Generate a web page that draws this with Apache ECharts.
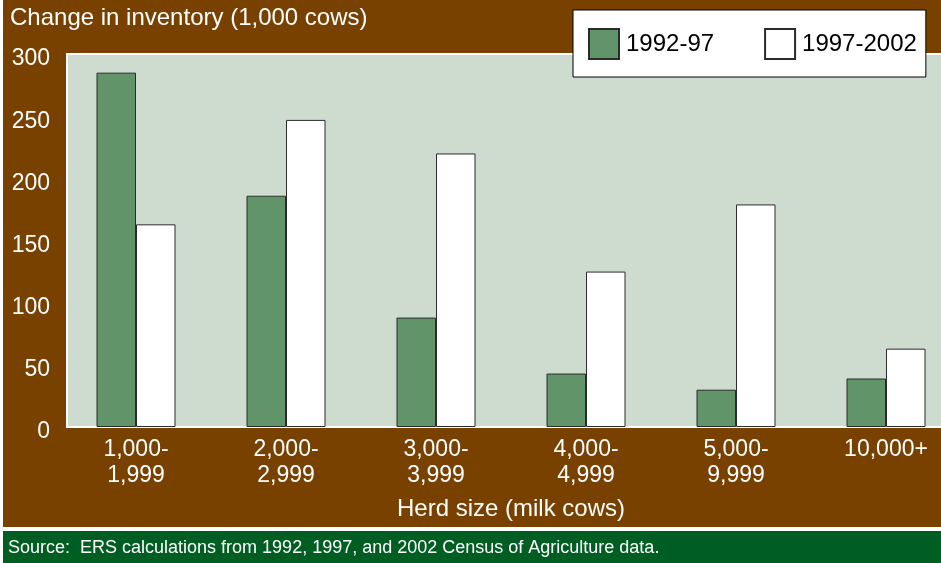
<!DOCTYPE html>
<html>
<head>
<meta charset="utf-8">
<script src="https://cdn.jsdelivr.net/npm/echarts@6/dist/echarts.min.js"></script>
<style>
  html, body { margin: 0; padding: 0; background: #ffffff; overflow: hidden; }
  #main { width: 961px; height: 563px; }
</style>
</head>
<body>
<div id="main"></div>
<script>
// herd size classes
var herdSizes = ['1,000-\n1,999', '2,000-\n2,999', '3,000-\n3,999', '4,000-\n4,999', '5,000-\n9,999', '10,000+'];
// change in inventory, 1,000 cows
var change9297 = [285, 186, 88, 43, 30, 39];
var change9702 = [163, 247, 220, 125, 179, 63];
var seriesNames = ['1992-97', '1997-2002'];

var brown = '#784100';
var font = 'Liberation Sans, Arial, sans-serif';

var chart = echarts.init(document.getElementById('main'));

var option = {
  backgroundColor: '#ffffff',
  animation: false,
  textStyle: { fontFamily: font },
  graphic: [
    { type: 'rect', z: -10, shape: { x: 3, y: 0, width: 958, height: 527 }, style: { fill: brown } },
    { type: 'rect', z: -10, shape: { x: 3, y: 531, width: 958, height: 32 }, style: { fill: '#005e23' } },
    { type: 'rect', z: -5, shape: { x: 67, y: 54, width: 900, height: 373 },
      style: { fill: '#cddccf', stroke: '#ffffff', lineWidth: 2 } },
    { type: 'text', left: 10, top: 6,
      style: { text: 'Change in inventory (1,000 cows)', fill: '#ffffff', font: '24px ' + font } },
    { type: 'text', left: 8, top: 539,
      style: { text: 'Source:  ERS calculations from 1992, 1997, and 2002 Census of Agriculture data.', fill: '#ffffff', font: '18px ' + font } }
  ],
  legend: {
    data: seriesNames,
    left: 573,
    top: 10,
    padding: [18, 9, 17, 15],
    icon: 'rect',
    itemWidth: 30,
    itemHeight: 30,
    itemGap: 50,
    backgroundColor: '#ffffff',
    borderColor: '#000000',
    borderWidth: 1,
    borderRadius: 0,
    textStyle: { fontSize: 24, color: '#000000', fontFamily: font, padding: [0, 0, 0, 2] }
  },
  grid: {
    left: 61,
    top: 54,
    right: 0,
    height: 373,
    containLabel: false
  },
  xAxis: {
    type: 'category',
    data: herdSizes,
    name: 'Herd size (milk cows)',
    nameLocation: 'middle',
    nameGap: 70,
    nameTextStyle: { color: '#ffffff', fontSize: 24, fontFamily: font },
    axisLine: { show: false },
    axisTick: { show: false },
    axisLabel: { color: '#ffffff', fontSize: 23, lineHeight: 26, margin: 10, fontFamily: font }
  },
  yAxis: {
    type: 'value',
    min: 0,
    max: 300,
    interval: 50,
    axisLine: { show: false },
    axisTick: { show: false },
    splitLine: { show: false },
    axisLabel: { color: '#ffffff', fontSize: 23, margin: 11, fontFamily: font,
      verticalAlign: 'top', lineHeight: 10 }
  },
  series: [
    {
      name: seriesNames[0],
      type: 'bar',
      data: change9297,
      barWidth: 39.5,
      barGap: '0%',
      itemStyle: { color: '#62946a', borderColor: '#2b2b2b', borderWidth: 1 }
    },
    {
      name: seriesNames[1],
      type: 'bar',
      data: change9702,
      barWidth: 39.5,
      itemStyle: { color: '#ffffff', borderColor: '#2b2b2b', borderWidth: 1 }
    }
  ]
};

chart.setOption(option);
</script>
</body>
</html>
